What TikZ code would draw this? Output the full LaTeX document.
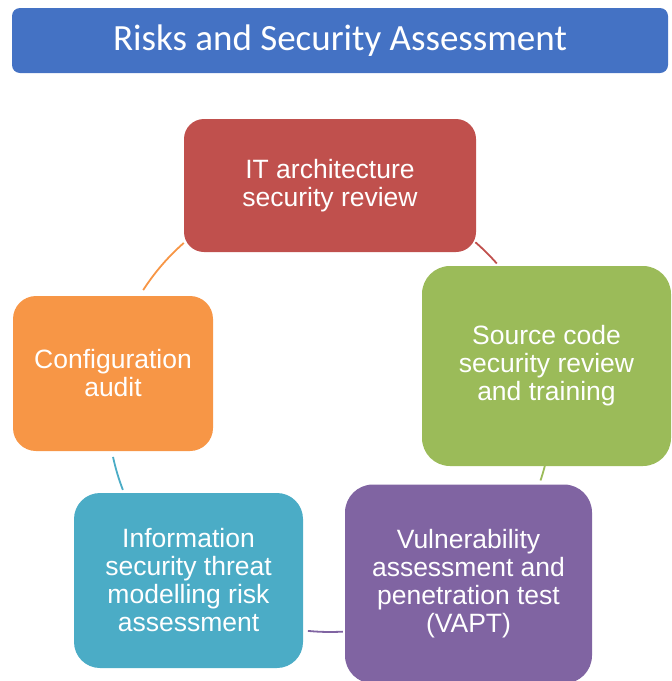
\documentclass[tikz,border=0pt]{standalone}
\usepackage{fontspec}
\setmainfont{Liberation Sans}
\newfontfamily\titlefont{Carlito}
\definecolor{titleblue}{HTML}{4472C4}
\definecolor{stred}{HTML}{C0504D}
\definecolor{stgreen}{HTML}{9BBB59}
\definecolor{stpurple}{HTML}{8064A2}
\definecolor{stteal}{HTML}{4BACC6}
\definecolor{storange}{HTML}{F79646}
\begin{document}
\begin{tikzpicture}[x=1pt,y=1pt,
  stage/.style={inner sep=0pt, align=center, text=white,
    font=\fontsize{26.5}{28}\selectfont},
  link/.style={line width=1.8pt},
]
\useasboundingbox (0,0) rectangle (672,-681);
% heading bar
\node[fill=titleblue, rounded corners=8pt, minimum width=656pt, minimum height=65pt,
      text=white, font=\titlefont\fontsize{37}{40}\selectfont] (title) at (340,-40.5)
      {Risks and Security Assessment};
% cycle stages
\node[stage, fill=stred, rounded corners=20pt, minimum width=292pt, minimum height=133pt]
  (arch) at (330,-185.5) {IT architecture\\security review};
\node[stage, fill=stgreen, rounded corners=28pt, minimum width=249pt, minimum height=200pt]
  (code) at (546.5,-366) {Source code\\security review\\and training};
\node[stage, fill=stpurple, rounded corners=28pt, minimum width=247pt, minimum height=199pt]
  (vapt) at (468.5,-584) {Vulnerability\\assessment and\\penetration test\\(VAPT)};
\node[stage, fill=stteal, rounded corners=26pt, minimum width=229pt, minimum height=175pt]
  (threat) at (188.5,-580.5) {Information\\security threat\\modelling risk\\assessment};
\node[stage, fill=storange, rounded corners=23pt, minimum width=200pt, minimum height=155pt]
  (config) at (113,-373.5) {Configuration\\audit};
% connecting arcs on the cycle
\coordinate (hub) at (330,-410);
\draw[link, storange] ([shift={(147.3:222)}]hub) arc[start angle=147.3, end angle=131.2, radius=222];
\draw[link, stred]    ([shift={(49.1:222)}]hub)  arc[start angle=49.1, end angle=41.3, radius=222];
\draw[link, stgreen]  ([shift={(-14.6:222)}]hub) arc[start angle=-14.6, end angle=-18.5, radius=222];
\draw[link, stpurple] ([shift={(-86.7:222)}]hub) arc[start angle=-86.7, end angle=-95.7, radius=222];
\draw[link, stteal]   ([shift={(-158.9:222)}]hub) arc[start angle=-158.9, end angle=-167.8, radius=222];
\end{tikzpicture}
\end{document}
